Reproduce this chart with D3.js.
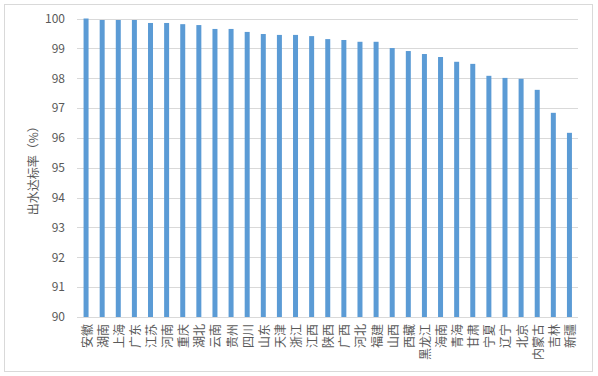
<!DOCTYPE html>
<html>
<head>
<meta charset="utf-8">
<script src="https://cdn.jsdelivr.net/npm/d3@7/dist/d3.min.js"></script>
<style>
  html, body { margin: 0; padding: 0; background: #ffffff; }
  svg { display: block; }
  text { font-family: "Noto Sans CJK SC", "Microsoft YaHei", sans-serif; fill: #595959; }
</style>
</head>
<body>
<svg id="chart" width="598" height="376"></svg>
<script>
const categories = ["安徽","湖南","上海","广东","江苏","河南","重庆","湖北","云南","贵州","四川","山东","天津","浙江","江西","陕西","广西","河北","福建","山西","西藏","黑龙江","海南","青海","甘肃","宁夏","辽宁","北京","内蒙古","吉林","新疆"];
const values = [100.0, 99.95, 99.95, 99.95, 99.85, 99.85, 99.81, 99.78, 99.65, 99.65, 99.55, 99.48, 99.45, 99.45, 99.41, 99.31, 99.28, 99.22, 99.22, 99.01, 98.91, 98.81, 98.71, 98.55, 98.48, 98.08, 98.01, 97.98, 97.61, 96.84, 96.17];
const yTicks = [90, 91, 92, 93, 94, 95, 96, 97, 98, 99, 100];
const yTitle = "出水达标率（%）";

const svg = d3.select("#chart");

// outer border
svg.append("rect")
  .attr("x", 4.5).attr("y", 4.5)
  .attr("width", 588).attr("height", 367)
  .attr("fill", "#ffffff")
  .attr("stroke", "#d9d9d9")
  .attr("stroke-width", 1);

const plotLeft = 77, plotRight = 578, plotTop = 18.5, plotBottom = 317;

const x = d3.scaleBand()
  .domain(categories)
  .range([plotLeft + 1, plotRight - 0.5])
  .paddingInner(0.69)
  .paddingOuter(0.345);

const y = d3.scaleLinear()
  .domain([90, 100])
  .range([plotBottom, plotTop]);

// y axis with gridlines
const yAxis = d3.axisLeft(y)
  .tickValues(yTicks)
  .tickSizeInner(-(plotRight - plotLeft))
  .tickSizeOuter(0)
  .tickPadding(12)
  .tickFormat(d3.format("d"));

const gy = svg.append("g")
  .attr("transform", `translate(${plotLeft},0)`)
  .call(yAxis);
gy.select(".domain").remove();
gy.selectAll(".tick line")
  .attr("stroke", "#d9d9d9")
  .attr("stroke-width", 1)
  .attr("shape-rendering", "crispEdges");
gy.selectAll(".tick text")
  .attr("font-size", 12)
  .attr("fill", "#595959")
  .style("font-family", "'Noto Sans CJK SC', sans-serif");

// bars
svg.append("g")
  .selectAll("rect")
  .data(values)
  .join("rect")
  .attr("x", (d, i) => x(categories[i]))
  .attr("width", x.bandwidth())
  .attr("y", d => y(d))
  .attr("height", d => y(90) - y(d))
  .attr("fill", "#5b9bd5");

// x axis
const xAxis = d3.axisBottom(x).tickSize(0).tickPadding(0);
const gx = svg.append("g")
  .attr("transform", `translate(0,${plotBottom})`)
  .call(xAxis);
gx.select(".domain")
  .attr("d", `M${plotLeft},0.5H${plotRight}`)
  .attr("stroke", "#d9d9d9")
  .attr("shape-rendering", "crispEdges");
gx.selectAll(".tick text")
  .attr("font-size", 12)
  .attr("fill", "#595959")
  .attr("text-anchor", "end")
  .attr("dominant-baseline", "central")
  .attr("dy", null)
  .attr("y", 0)
  .attr("transform", "translate(0,7) rotate(-90)")
  .style("font-family", "'Noto Sans CJK SC', sans-serif");

// y axis title
svg.append("text")
  .attr("transform", `translate(32,${(plotTop + plotBottom) / 2}) rotate(-90)`)
  .attr("text-anchor", "middle")
  .attr("dominant-baseline", "central")
  .attr("font-size", 12)
  .attr("fill", "#595959")
  .text(yTitle);
</script>
</body>
</html>
